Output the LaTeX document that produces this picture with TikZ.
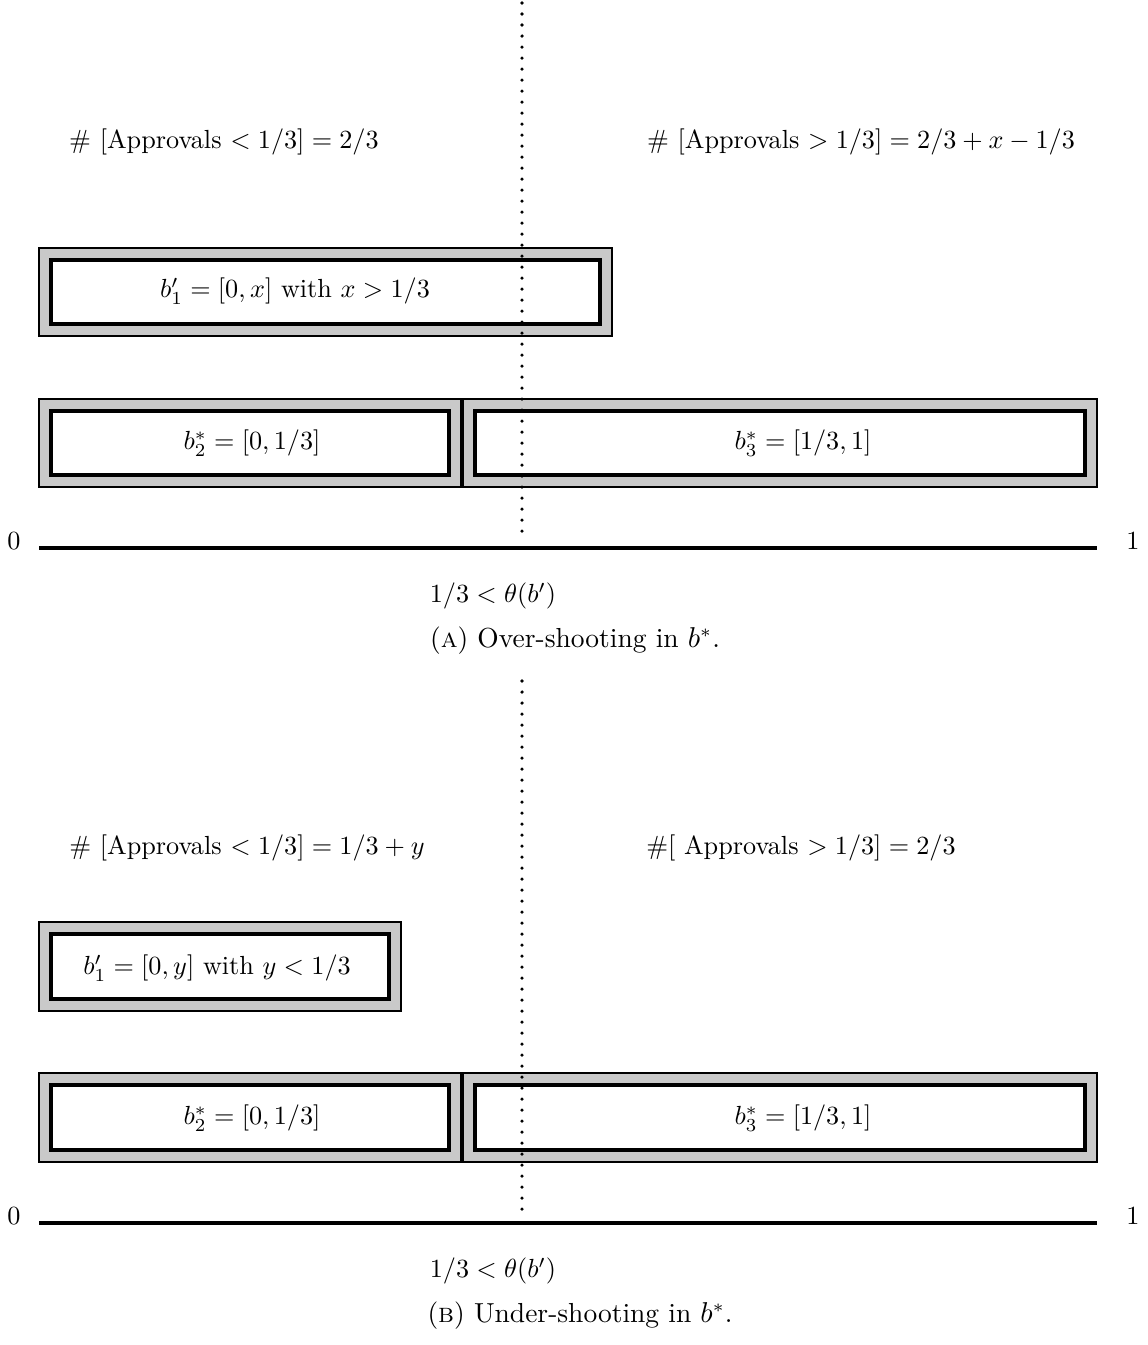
\documentclass[tikz,border=0pt]{standalone}
\usepackage{fontspec}
\begin{document}
\begin{tikzpicture}[x=0.3817pt,y=-0.3817pt,
  outerbox/.style={draw=black,line width=0.9pt,fill=black!21},
  innerbox/.style={draw=black,line width=1.3pt,fill=white},
  axisline/.style={line width=1.2pt},
  vdots/.style={line width=1.35pt,dash pattern=on 0pt off 4.2pt,line cap=round},
  lbl/.style={inner sep=0pt,anchor=center},
  capt/.style={inner sep=0pt,anchor=center,font=\fontsize{10.5}{13}\selectfont}]
\useasboundingbox (0,0) rectangle (1148,1345);

% ---------------- Panel A ----------------
\node[lbl] (aL) at (224,142) {\# [Approvals $<1/3]=2/3$};
\node[lbl] (aR) at (861,142) {\# [Approvals $>1/3]=2/3+x-1/3$};

\draw[outerbox] (39,248) rectangle (612,336);
\draw[innerbox] (51,260) rectangle (600,324);
\node[lbl] (a1) at (295,291) {$b_1'=[0,x]$ with $x>1/3$};

\draw[outerbox] (39,399) rectangle (461,487);
\draw[innerbox] (51,411) rectangle (449,475);
\node[lbl] (a2) at (252,443) {$b_2^*=[0,1/3]$};

\draw[outerbox] (463,399) rectangle (1097,487);
\draw[innerbox] (475,411) rectangle (1085,475);
\node[lbl] (a3) at (803,443) {$b_3^*=[1/3,1]$};

\node[lbl] (a0) at (14,541) {$0$};
\node[lbl] (a1e) at (1133,541) {$1$};
\coordinate (aAxL) at (39,548);
\coordinate (aAxR) at (1097,548);
\draw[axisline] (aAxL) -- (aAxR);

\coordinate (aDotT) at (522,3);
\coordinate (aDotB) at (522,538);
\draw[vdots] (aDotT) -- (aDotB);

\node[lbl] (aTh) at (493,596) {$1/3<\theta(b')$};
\node[capt] (aCap) at (575,641) {(\textsc{a}) Over-shooting in $b^{*}$.};

% ---------------- Panel B ----------------
\node[lbl] (bL) at (247,848) {\# [Approvals $<1/3]=1/3+y$};
\node[lbl] (bR) at (801,848) {\#[ Approvals $>1/3]=2/3$};

\draw[outerbox] (39,922) rectangle (401,1011);
\draw[innerbox] (51,934) rectangle (389,999);
\node[lbl] (b1) at (217,968) {$b_1'=[0,y]$ with $y<1/3$};

\draw[outerbox] (39,1073) rectangle (461,1162);
\draw[innerbox] (51,1085) rectangle (449,1150);
\node[lbl] (b2) at (252,1118) {$b_2^*=[0,1/3]$};

\draw[outerbox] (463,1073) rectangle (1097,1162);
\draw[innerbox] (475,1085) rectangle (1085,1150);
\node[lbl] (b3) at (803,1118) {$b_3^*=[1/3,1]$};

\node[lbl] (b0) at (14,1216) {$0$};
\node[lbl] (b1e) at (1133,1216) {$1$};
\coordinate (bAxL) at (39,1223);
\coordinate (bAxR) at (1097,1223);
\draw[axisline] (bAxL) -- (bAxR);

\coordinate (bDotT) at (522,681);
\coordinate (bDotB) at (522,1213);
\draw[vdots] (bDotT) -- (bDotB);

\node[lbl] (bTh) at (493,1271) {$1/3<\theta(b')$};
\node[capt] (bCap) at (580,1316) {(\textsc{b}) Under-shooting in $b^{*}$.};
\end{tikzpicture}
\end{document}
